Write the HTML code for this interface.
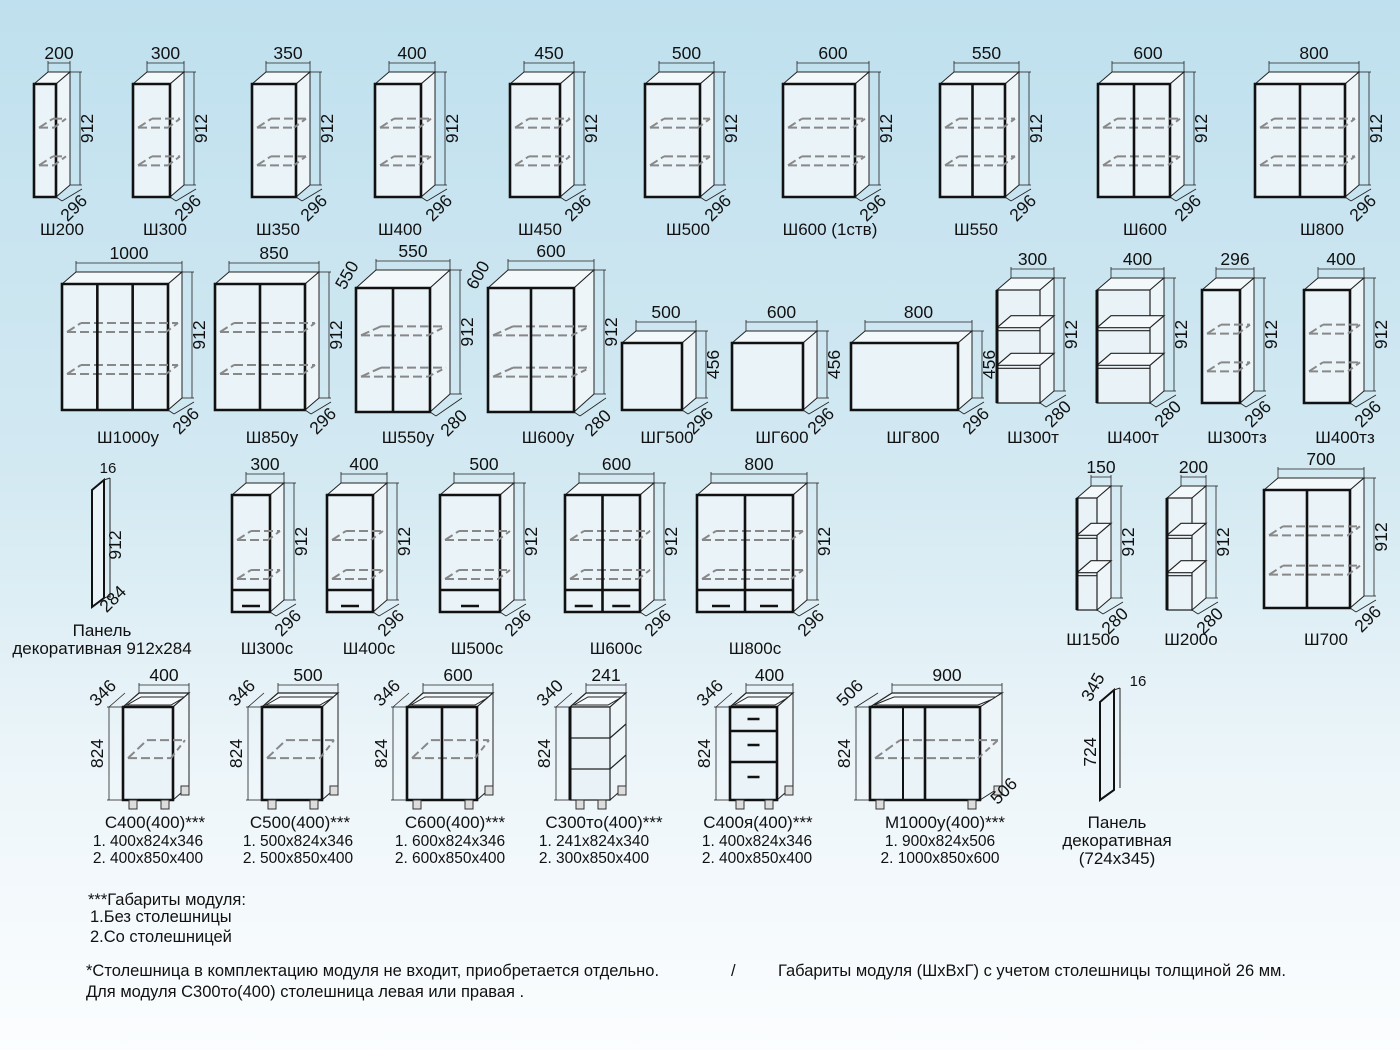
<!DOCTYPE html>
<html><head><meta charset="utf-8"><style>
html,body{margin:0;padding:0}
body{width:1400px;height:1050px;overflow:hidden;background:linear-gradient(#bfe0ee 0%,#d3e9f2 45%,#eef6fa 75%,#fbfdfe 100%);font-family:"Liberation Sans",sans-serif}
svg{position:absolute;left:0;top:0}
text{font-family:"Liberation Sans",sans-serif;fill:#111}
</style></head><body>
<svg id="s" width="1400" height="1050" xmlns="http://www.w3.org/2000/svg">
<g font-size="17" text-anchor="middle">
<text x="62" y="235">Ш200</text><text x="165" y="235">Ш300</text><text x="278" y="235">Ш350</text><text x="400" y="235">Ш400</text><text x="540" y="235">Ш450</text><text x="688" y="235">Ш500</text><text x="830" y="235">Ш600 (1ств)</text><text x="976" y="235">Ш550</text><text x="1145" y="235">Ш600</text><text x="1322" y="235">Ш800</text>
<text x="128" y="443">Ш1000у</text><text x="272" y="443">Ш850у</text><text x="408" y="443">Ш550у</text><text x="548" y="443">Ш600у</text><text x="667" y="443">ШГ500</text><text x="782" y="443">ШГ600</text><text x="913" y="443">ШГ800</text><text x="1033" y="443">Ш300т</text><text x="1133" y="443">Ш400т</text><text x="1237" y="443">Ш300тз</text><text x="1345" y="443">Ш400тз</text>
<text x="102" y="636">Панель</text><text x="102" y="654">декоративная 912х284</text>
<text x="267" y="654">Ш300с</text><text x="369" y="654">Ш400с</text><text x="477" y="654">Ш500с</text><text x="616" y="654">Ш600с</text><text x="755" y="654">Ш800с</text>
<text x="1093" y="645">Ш150о</text><text x="1191" y="645">Ш200о</text><text x="1326" y="645">Ш700</text>
<text x="155" y="828">С400(400)***</text><text x="300" y="828">С500(400)***</text><text x="455" y="828">С600(400)***</text><text x="604" y="828">С300то(400)***</text><text x="758" y="828">С400я(400)***</text><text x="945" y="828">М1000у(400)***</text>
<g font-size="15.5">
<text x="148" y="846">1. 400х824х346</text><text x="148" y="863">2. 400х850х400</text>
<text x="298" y="846">1. 500х824х346</text><text x="298" y="863">2. 500х850х400</text>
<text x="450" y="846">1. 600х824х346</text><text x="450" y="863">2. 600х850х400</text>
<text x="594" y="846">1. 241х824х340</text><text x="594" y="863">2. 300х850х400</text>
<text x="757" y="846">1. 400х824х346</text><text x="757" y="863">2. 400х850х400</text>
<text x="940" y="846">1. 900х824х506</text><text x="940" y="863">2. 1000х850х600</text>
</g>
<text x="1117" y="828">Панель</text><text x="1117" y="846">декоративная</text><text x="1117" y="864">(724х345)</text>
</g>
<g font-size="16.5">
<text x="88" y="905">***Габариты модуля:</text>
<text x="90" y="922">1.Без столешницы</text>
<text x="90" y="942">2.Со столешницей</text>
<text x="86" y="976">*Столешница в комплектацию модуля не входит, приобретается отдельно.</text>
<text x="86" y="997">Для модуля С300то(400) столешница левая или правая .</text>
<text x="731" y="976">/</text>
<text x="778" y="976">Габариты модуля (ШхВхГ) с учетом столешницы толщиной 26 мм.</text>
</g>
<g id="g"></g>
</svg>
<script>
var G=document.getElementById('g'),out='';
function L(a,b,c,d,w,col,da){out+='<line x1="'+a+'" y1="'+b+'" x2="'+c+'" y2="'+d+'" stroke="'+(col||'#222')+'" stroke-width="'+(w||1)+'"'+(da?' stroke-dasharray="'+da+'"':'')+'/>';}
function P(pts,fill,w,col){out+='<polygon points="'+pts+'" fill="'+fill+'" stroke="'+(col||'#222')+'" stroke-width="'+(w||1)+'"/>';}
function T(x,y,s,rot,fs){out+='<text x="'+x+'" y="'+y+'" font-size="'+(fs||17.5)+'" text-anchor="middle"'+(rot!=null?' transform="rotate('+rot+' '+x+' '+y+')"':'')+'>'+s+'</text>';}
function cab(x,w,t,b,o){o=o||{};var dx=o.dx||14,dy=o.dy||-12,r=x+w;
 P(x+','+t+' '+(x+dx)+','+(t+dy)+' '+(r+dx)+','+(t+dy)+' '+r+','+t,'#f3f8fb');
 P(r+','+t+' '+(r+dx)+','+(t+dy)+' '+(r+dx)+','+(b+dy)+' '+r+','+b,'#eef5f9');
 if(o.open){P(x+','+t+' '+r+','+t+' '+r+','+b+' '+x+','+b,'#e8f2f7',1.2);
   var n=o.open;for(var i=1;i<n;i++){var yy=t+(b-t)*i/n;P(x+','+yy+' '+(x+dx)+','+(yy+dy)+' '+(r+dx)+','+(yy+dy)+' '+r+','+yy,'#f5f9fb',1.2);L(x,yy+3,r,yy+3,1.2);}
   L(x,t,x,b,3,'#111');
 } else {
 P(x+','+t+' '+r+','+t+' '+r+','+b+' '+x+','+b,'#e9f3f8',2.6,'#111');
 var sh=o.sh==null?2:o.sh;
 for(var i=1;i<=sh;i++){var ys=t+(b-t)*(i/(sh+1))+6;
   L(x+5,ys,r-2,ys,2,'#888','9 4');L(x+5,ys,x+dx+5,ys-9,2,'#888','9 4');L(x+dx+5,ys-9,r+dx-4,ys-9,2,'#888','9 4');L(r-2,ys,r+dx-4,ys-9,2,'#888','6 4');}
 var d=o.doors||1;for(var i=1;i<d;i++){var xx=x+w*i/d;L(xx,t,xx,b,2.6,'#111');}
 if(o.drawer){L(x,b-22,r,b-22,2.4,'#111');for(var i=0;i<d;i++){var cx=x+w*(i+.5)/d;L(cx-9,b-6,cx+9,b-6,2.5,'#111');}}
 }
 var wy=t+dy-9;L(x+dx,t+dy,x+dx,wy-2,.8);L(r+dx,t+dy,r+dx,wy-2,.8);L(x+dx,wy,r+dx,wy,.8);
 if(o.wl)T(x+dx+w/2,wy-4,o.wl);
 var hx=r+dx+10;L(r+dx,t+dy,hx+2,t+dy,.8);L(r+dx,b+dy,hx+2,b+dy,.8);L(hx,t+dy,hx,b+dy,.8);
 if(o.hl)T(hx+13,(t+b)/2+dy,o.hl,-90);
 L(r,b,r+6,b+4,.8);L(r+6,b+4,hx+2,b+dy+4,.8);
 if(o.dl)T(hx-2,b+15,o.dl,-45);
}
function base(x,w,t,b,o){o=o||{};var dx=o.dx||16,dy=-14,r=x+w;
 P(x+','+t+' '+(x+dx)+','+(t+dy)+' '+(r+dx)+','+(t+dy)+' '+r+','+t,'#f3f8fb',1.2);
 P((x+4)+','+(t-2)+' '+(x+dx+2)+','+(t+dy+4)+' '+(r+dx-4)+','+(t+dy+4)+' '+(r-2)+','+(t-2),'#f6fafc',1);
 P(r+','+t+' '+(r+dx)+','+(t+dy)+' '+(r+dx)+','+(b+dy)+' '+r+','+b,'#eef5f9');
 if(o.open){P(x+','+t+' '+r+','+t+' '+r+','+b+' '+x+','+b,'#e8f2f7',1.2);for(var i=1;i<3;i++){var yy=t+(b-t)*i/3;L(x,yy,r,yy,1.2);L(r,yy,r+dx,yy+dy,1.2);}L(x,t,x,b,3,'#111');}
 else{P(x+','+t+' '+r+','+t+' '+r+','+b+' '+x+','+b,'#e9f3f8',2.6,'#111');
 if(!o.drawers){var ys=t+(b-t)*.55;L(x+5,ys,r-2,ys,2,'#888','9 4');L(x+5,ys,x+dx+8,ys-18,2,'#888','9 4');L(x+dx+8,ys-18,r+dx-4,ys-18,2,'#888','9 4');L(r-2,ys,r+dx-4,ys-18,2,'#888','6 4');}
 var d=o.doors||1;for(var i=1;i<d;i++){var xx=x+w*i/d;L(xx,t,xx,b,2.6,'#111');}
 if(o.drawers){L(x,t+24,r,t+24,2.4,'#111');L(x,t+55,r,t+55,2.4,'#111');[t+12,t+38,t+70].forEach(function(yy){L(x+w/2-6,yy,x+w/2+6,yy,2.5,'#111');});}}
 [[x+6,b],[r-12,b],[r+dx-8,b+dy]].forEach(function(p){out+='<rect x="'+p[0]+'" y="'+p[1]+'" width="8" height="9" fill="#ddd" stroke="#333"/>';});
 var wy=t+dy-8;L(x+dx,t+dy,x+dx,wy-2,.8);L(r+dx,t+dy,r+dx,wy-2,.8);L(x+dx,wy,r+dx,wy,.8);T(x+dx+w/2,wy-4,o.wl);
 var hx=x-14;L(x,t,hx-2,t,.8);L(x,b,hx-2,b,.8);L(hx,t,hx,b,.8);L(hx,t,hx+dx,t+dy,.8);T(hx-6,(t+b)/2,o.hl||'824',-90);
 T(hx-2,t-10,o.dl,-45);
}
var R1=[[34,22,'200'],[133,37,'300'],[252,44,'350'],[375,46,'400'],[510,50,'450'],[645,55,'500'],[783,72,'600',1],[940,65,'550',2],[1098,72,'600',2],[1255,90,'800',2]];
R1.forEach(function(c){cab(c[0],c[1],84,197,{wl:c[2],hl:'912',dl:'296',doors:c[3]||1});});
cab(62,106,284,410,{wl:'1000',hl:'912',dl:'296',doors:3});
cab(215,90,284,410,{wl:'850',hl:'912',dl:'296',doors:2});
cab(356,74,288,412,{wl:'550',hl:'912',dl:'280',doors:2,dx:20,dy:-18});T(352,278,'550',-60);
cab(488,86,288,412,{wl:'600',hl:'912',dl:'280',doors:2,dx:20,dy:-18});T(483,278,'600',-60);
cab(622,60,343,410,{wl:'500',hl:'456',dl:'296',sh:0});
cab(732,71,343,410,{wl:'600',hl:'456',dl:'296',sh:0});
cab(851,107,343,410,{wl:'800',hl:'456',dl:'296',sh:0});
cab(997,43,290,403,{wl:'300',hl:'912',dl:'280',open:3});
cab(1097,53,290,403,{wl:'400',hl:'912',dl:'280',open:3});
cab(1202,38,290,403,{wl:'296',hl:'912',dl:'296'});
cab(1304,46,290,403,{wl:'400',hl:'912',dl:'296'});
P('92,490 104,480 104,598 92,607','#eaf3f8',2,'#111');L(104,480,110,478,1);L(110,478,110,598,1);L(104,598,110,596,1);
T(108,473,'16',null,15);T(121,545,'912',-90);T(117,603,'284',-45);
cab(232,38,495,612,{wl:'300',hl:'912',dl:'296',drawer:1});
cab(327,46,495,612,{wl:'400',hl:'912',dl:'296',drawer:1});
cab(440,60,495,612,{wl:'500',hl:'912',dl:'296',drawer:1});
cab(565,75,495,612,{wl:'600',hl:'912',dl:'296',doors:2,drawer:1});
cab(697,96,495,612,{wl:'800',hl:'912',dl:'296',doors:2,drawer:1});
cab(1077,20,498,610,{wl:'150',hl:'912',dl:'280',open:3});
cab(1167,25,498,610,{wl:'200',hl:'912',dl:'280',open:3});
cab(1264,86,490,608,{wl:'700',hl:'912',dl:'296',doors:2});
base(123,50,707,800,{wl:'400',dl:'346'});
base(262,60,707,800,{wl:'500',dl:'346'});
base(407,70,707,800,{wl:'600',dl:'346',doors:2});
base(570,40,707,800,{wl:'241',dl:'340',open:1});
base(730,47,707,800,{wl:'400',dl:'346',drawers:1});
base(870,110,707,800,{wl:'900',dl:'506',doors:2,dx:22});
L(903,707,903,800,2,'#111');T(1008,795,'506',-45);
P('1100,702 1114,690 1114,790 1100,800','#eaf3f8',2,'#111');L(1114,690,1120,688,1);L(1120,688,1120,788,1);
T(1138,686,'16',null,15);T(1098,690,'345',-60);T(1096,752,'724',-90);
G.innerHTML=out;
</script>
</body></html>
